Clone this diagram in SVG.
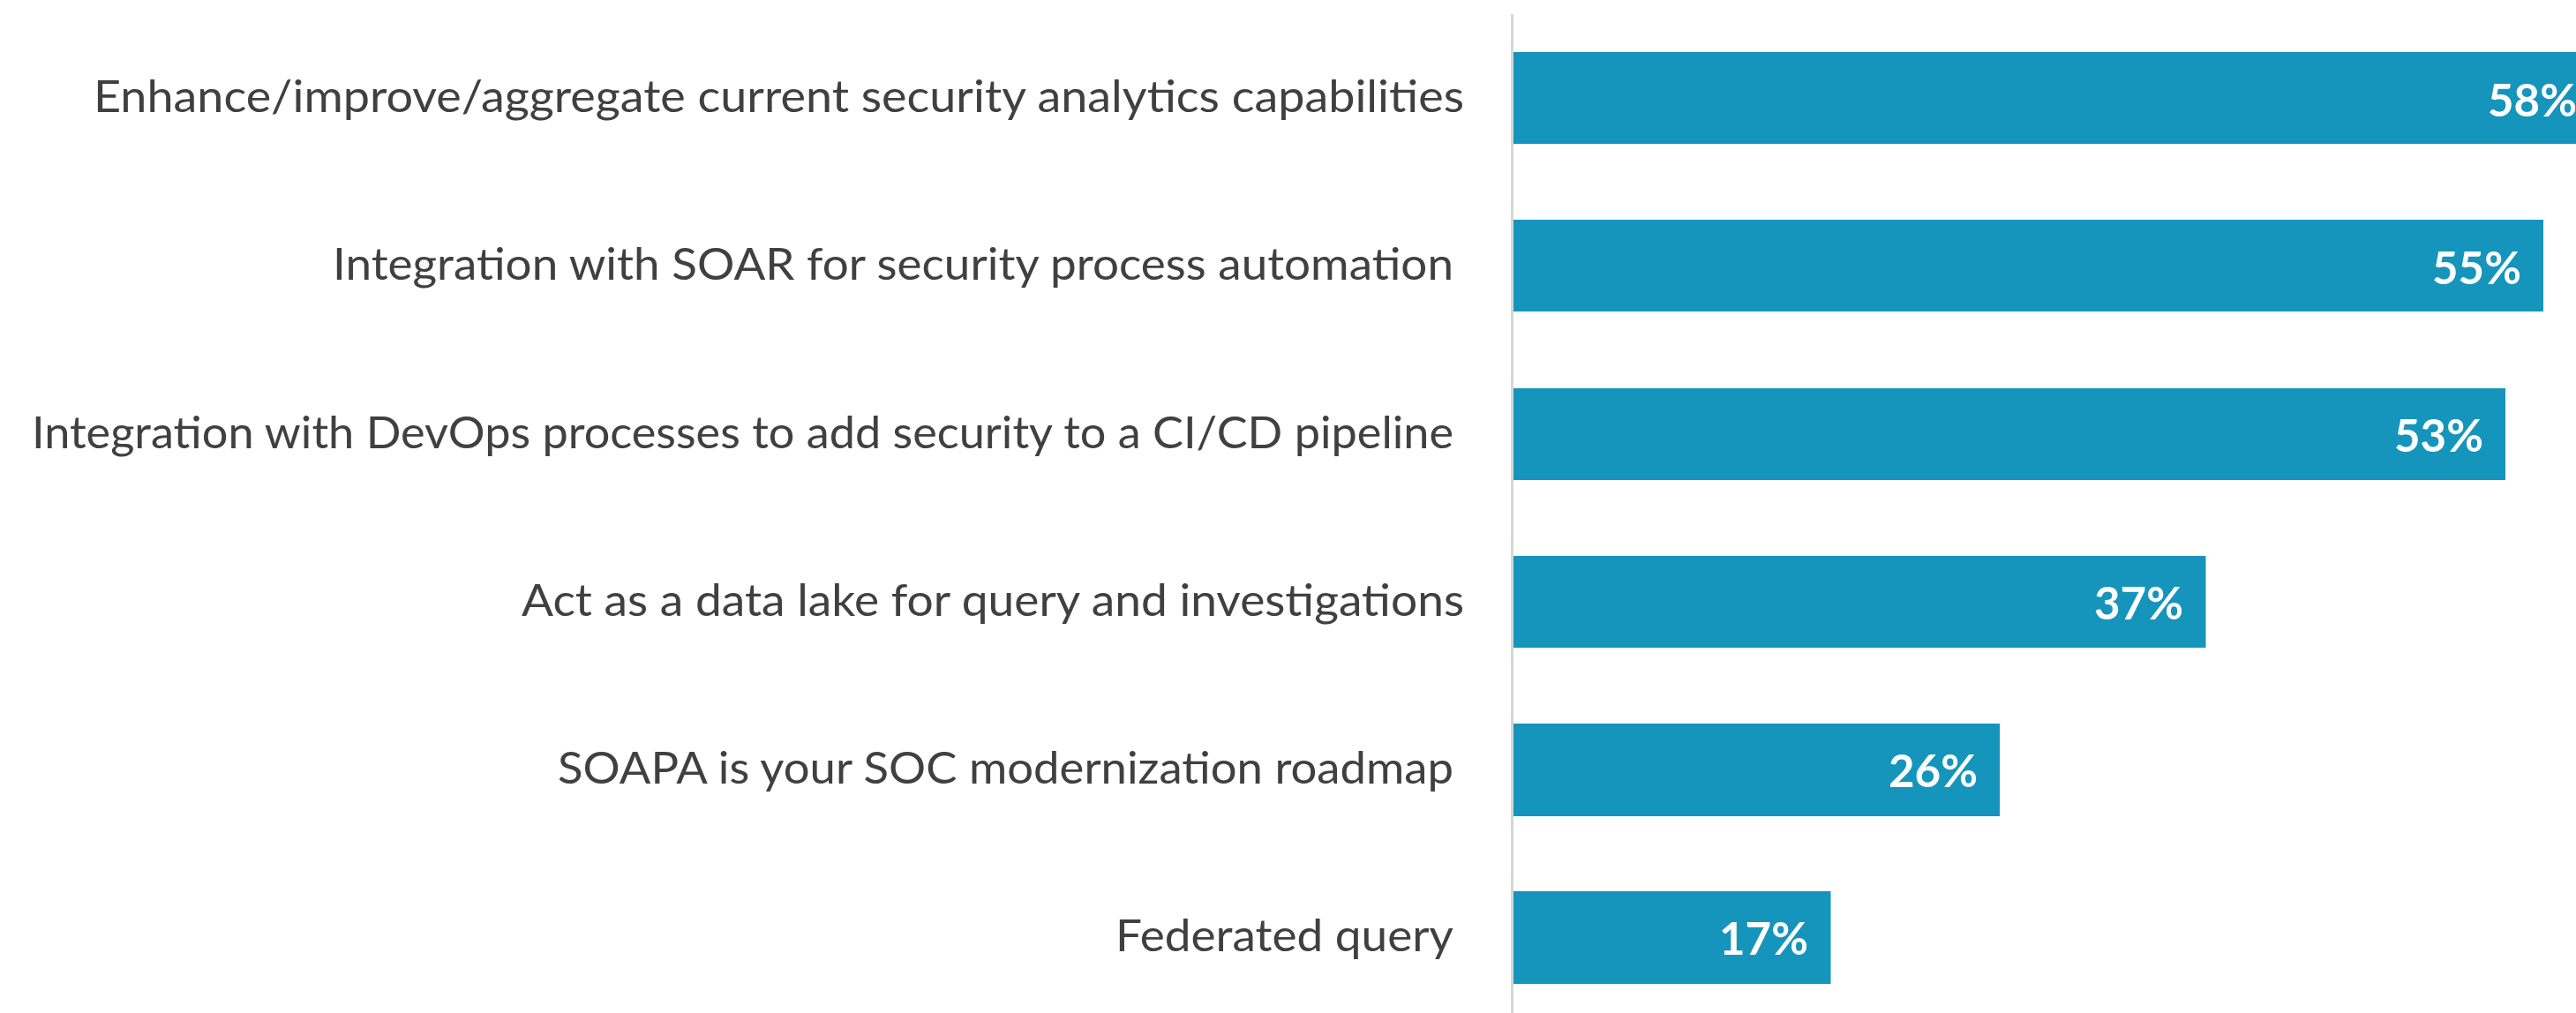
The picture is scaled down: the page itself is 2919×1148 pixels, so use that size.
<svg xmlns="http://www.w3.org/2000/svg" width="2919" height="1148" viewBox="0 0 2919 1148">
<style>
.bar{fill:#1595bb}
.lbl{font-family:Lato,"Liberation Sans",sans-serif;font-size:51px;fill:#404040;text-anchor:start}
.val{font-family:Lato,"Liberation Sans",sans-serif;font-size:51px;font-weight:bold;fill:#ffffff;text-anchor:end}
.axis{stroke:#d6d6d6;stroke-width:3}
</style>
<rect width="2919" height="1148" fill="#ffffff"/>
<g id="axis"><line class="axis" x1="1713.5" y1="16" x2="1713.5" y2="1148"/></g>
<g id="row1">
<rect class="bar" x="1715" y="59" width="1230" height="104"/>
<text class="lbl" x="106" y="127" textLength="1553" lengthAdjust="spacingAndGlyphs">Enhance/improve/aggregate current security analytics capabilities</text>
<text class="val" x="2920" y="132">58%</text>
</g>
<g id="row2">
<rect class="bar" x="1715" y="249" width="1167" height="104"/>
<text class="lbl" x="377" y="317" textLength="1270" lengthAdjust="spacingAndGlyphs">Integration with SOAR for security process automation</text>
<text class="val" x="2857" y="322">55%</text>
</g>
<g id="row3">
<rect class="bar" x="1715" y="440" width="1124" height="104"/>
<text class="lbl" x="36" y="508" textLength="1611" lengthAdjust="spacingAndGlyphs">Integration with DevOps processes to add security to a CI/CD pipeline</text>
<text class="val" x="2814" y="512">53%</text>
</g>
<g id="row4">
<rect class="bar" x="1715" y="630" width="784.5" height="104"/>
<text class="lbl" x="591" y="698" textLength="1068" lengthAdjust="spacingAndGlyphs">Act as a data lake for query and investigations</text>
<text class="val" x="2474" y="702">37%</text>
</g>
<g id="row5">
<rect class="bar" x="1715" y="820" width="551" height="105"/>
<text class="lbl" x="632" y="888" textLength="1015" lengthAdjust="spacingAndGlyphs">SOAPA is your SOC modernization roadmap</text>
<text class="val" x="2241" y="892">26%</text>
</g>
<g id="row6">
<rect class="bar" x="1715" y="1010" width="359.5" height="105"/>
<text class="lbl" x="1264" y="1078" textLength="383" lengthAdjust="spacingAndGlyphs">Federated query</text>
<text class="val" x="2049" y="1082">17%</text>
</g>
</svg>
